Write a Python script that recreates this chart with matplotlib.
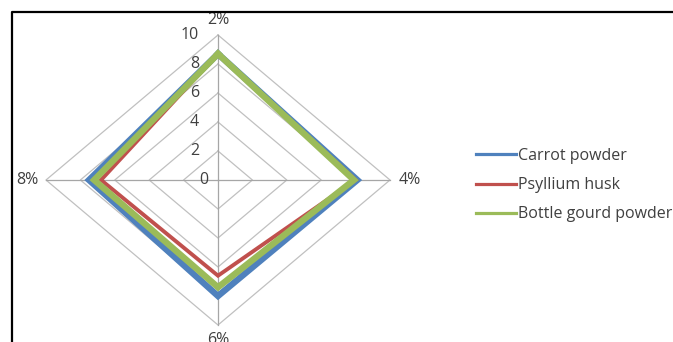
import numpy as np
import matplotlib
matplotlib.use("Agg")
import matplotlib.pyplot as plt
from matplotlib.lines import Line2D

categories = ["2%", "4%", "6%", "8%"]
series_names = ["Carrot powder", "Psyllium husk", "Bottle gourd powder"]
carrot = [8.7, 8.1, 8.0, 7.5]
psyllium = [8.7, 8.0, 6.6, 6.8]
bottle = [8.7, 7.9, 7.4, 7.2]
ticks = [0, 2, 4, 6, 8, 10]

colors = ["#4F81BD", "#C0504D", "#9BBB59"]
widths = [4.6, 2.8, 4.6]

W, H = 673, 342
cx, cy = 218, 180
sx, sy = 17.2, 14.5  # px per unit

plt.rcParams['font.family'] = ['Open Sans', 'DejaVu Sans']
fig = plt.figure(figsize=(W / 100, H / 100), dpi=100)
ax = fig.add_axes([0, 0, 1, 1])
ax.set_xlim(-cx / sx, (W - cx) / sx)
ax.set_ylim(-(H - cy) / sy, cy / sy)
ax.axis('off')

n = len(categories)
ang = np.pi / 2 - np.arange(n) * 2 * np.pi / n
ux, uy = np.cos(ang), np.sin(ang)

grid_c = "#C0C0C0"
for t in ticks[1:]:
    ax.plot(np.append(ux, ux[0]) * t, np.append(uy, uy[0]) * t,
            color=grid_c, lw=0.9, zorder=1)
rmax = ticks[-1]
for i in range(n):
    ax.plot([0, ux[i] * rmax], [0, uy[i] * rmax], color="#A6A6A6", lw=0.9, zorder=1)

for vals, c, w, name in zip([carrot, psyllium, bottle], colors, widths, series_names):
    v = np.array(vals)
    ax.plot(np.append(ux * v, ux[0] * v[0]), np.append(uy * v, uy[0] * v[0]),
            color=c, lw=w, solid_joinstyle='miter', zorder=3, label=name)

txt_c = "#404040"
fs = 11.5
for t in ticks:
    xo = -0.58 if t == 0 else -1.1
    ax.text(xo, t, str(t), ha='right', va='center', fontsize=fs, color=txt_c, zorder=4)

offs = [(0, 11.05, 'center', 'center'), (10.5, 0, 'left', 'center'),
        (0, -11.0, 'center', 'center'), (-10.45, 0, 'right', 'center')]
for lab, (x, y, ha, va) in zip(categories, offs):
    ax.text(x, y, lab, ha=ha, va=va, fontsize=fs, color=txt_c)

handles = [Line2D([0], [0], color=c, lw=2.3) for c in colors]
fig.legend(handles, series_names, loc='upper left',
           bbox_to_anchor=(476 / W, 1 - 148 / H), frameon=False,
           fontsize=fs, handlelength=2.5, handletextpad=0.1,
           labelspacing=0.82, borderaxespad=0, borderpad=0,
           labelcolor=txt_c)

fl = 12 / W
ft = 1 - 12 / H
fig.add_artist(Line2D([fl, fl, 1.0], [0, ft, ft], transform=fig.transFigure,
                      color='black', lw=1.6))

fig.savefig("out.png", dpi=100)
